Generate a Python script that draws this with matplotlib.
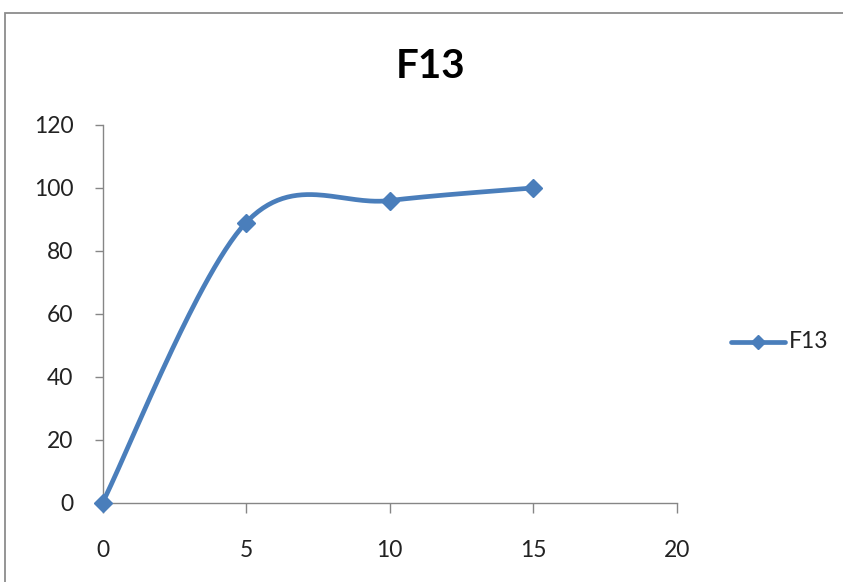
import numpy as np
import matplotlib
matplotlib.use("Agg")
import matplotlib.pyplot as plt
from matplotlib.patches import Rectangle
from matplotlib.lines import Line2D

# Series data
series_name = "F13"
x_vals = [0, 5, 10, 15]
y_vals = [0, 89, 96, 100]
x_ticks = [0, 5, 10, 15, 20]
y_ticks = [0, 20, 40, 60, 80, 100, 120]

LINE_COLOR = "#4a7ebb"
AXIS_COLOR = "#868686"
FONT = ["Lato", "DejaVu Sans"]

plt.rcParams["font.family"] = FONT


def smooth_curve(xs, ys, n=60):
    """Catmull-Rom style cubic Bezier smoothing through the points."""
    pts = np.column_stack([xs, ys]).astype(float)
    out = [pts[0]]
    for i in range(len(pts) - 1):
        p0 = pts[i - 1] if i > 0 else pts[i]
        p1 = pts[i]
        p2 = pts[i + 1]
        p3 = pts[i + 2] if i + 2 < len(pts) else pts[i + 1]
        c1 = p1 + (p2 - p0) / 6.0
        c2 = p2 - (p3 - p1) / 6.0
        t = np.linspace(0, 1, n)[1:, None]
        seg = ((1 - t) ** 3) * p1 + 3 * ((1 - t) ** 2) * t * c1 \
            + 3 * (1 - t) * t ** 2 * c2 + t ** 3 * p2
        out.extend(seg)
    out = np.array(out)
    return out[:, 0], out[:, 1]


W, H = 843, 582
fig = plt.figure(figsize=(W / 100, H / 100), dpi=100)
fig.patch.set_facecolor("white")

# Outer chart frame
fig.patches.append(Rectangle((5 / W, -0.05), 1.2, (H - 13) / H + 0.05,
                             transform=fig.transFigure, fill=False,
                             edgecolor="#8c8c8c", linewidth=1.3))

ax = fig.add_axes([102.5 / W, (H - 502.7) / H,
                   (676.7 - 102.5) / W, (502.7 - 125) / H])
ax.set_xlim(0, 20)
ax.set_ylim(0, 120)
ax.set_xticks(x_ticks)
ax.set_yticks(y_ticks)
ax.set_xticklabels([str(v) for v in x_ticks])
ax.set_yticklabels([str(v) for v in y_ticks])

for side in ("top", "right"):
    ax.spines[side].set_visible(False)
for side in ("left", "bottom"):
    ax.spines[side].set_color(AXIS_COLOR)
    ax.spines[side].set_linewidth(1.0)

ax.tick_params(axis="y", direction="out", length=6, width=1.0,
               color=AXIS_COLOR, labelsize=16.5, pad=15, labelcolor="#222222")
ax.tick_params(axis="x", direction="out", length=7, width=1.0,
               color=AXIS_COLOR, labelsize=16.5, pad=20, labelcolor="#222222")

sx, sy = smooth_curve(x_vals, y_vals)
ax.plot(sx, sy, color=LINE_COLOR, linewidth=3.4, solid_capstyle="round",
        clip_on=False, zorder=3)
ax.plot(x_vals, y_vals, linestyle="none", marker="D", markersize=9.5,
        color=LINE_COLOR, clip_on=False, zorder=4)

fig.text(431 / W, 1 - 66 / H, series_name, ha="center", va="center",
         fontsize=29, fontweight="bold", color="black")

# Legend entry
legend_y = 1 - 342 / H
fig.add_artist(Line2D([731 / W, 785 / W], [legend_y, legend_y],
                      transform=fig.transFigure, color=LINE_COLOR,
                      linewidth=3.4, solid_capstyle="round"))
fig.add_artist(Line2D([758 / W], [legend_y], transform=fig.transFigure,
                      marker="D", markersize=7.5, color=LINE_COLOR,
                      linestyle="none"))
fig.text(789 / W, legend_y, series_name, ha="left", va="center",
         fontsize=16.5, color="#222222")

fig.savefig("out.png", dpi=100)
